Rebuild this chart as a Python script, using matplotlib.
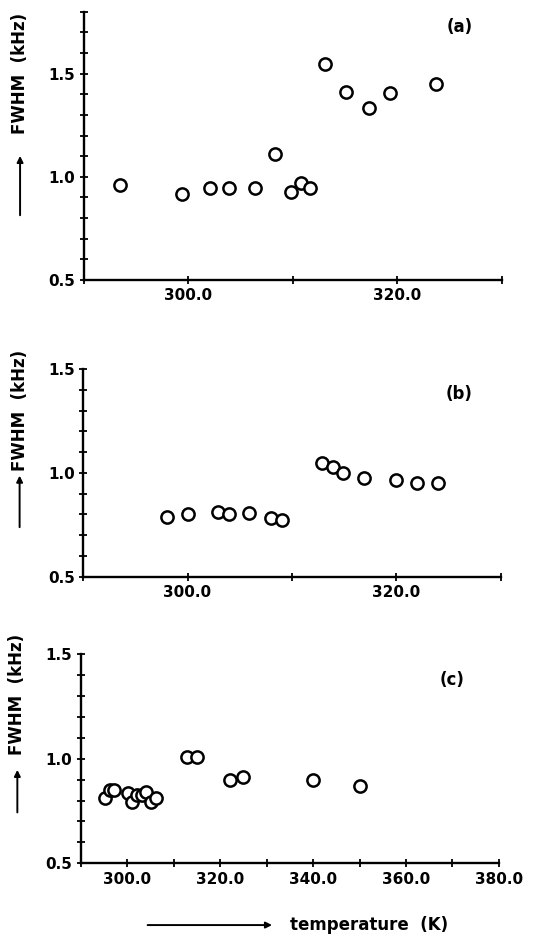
import matplotlib

matplotlib.use("Agg")
import matplotlib.pyplot as plt
from matplotlib.font_manager import FontProperties
from matplotlib.ticker import FormatStrFormatter, MultipleLocator

# panel (a)
temp_a = [293.5, 299.4, 302.1, 303.9, 306.4, 308.3, 309.8, 310.8, 311.6,
          313.1, 315.1, 317.3, 319.3, 323.7]
fwhm_a = [0.958, 0.915, 0.947, 0.947, 0.947, 1.112, 0.927, 0.968, 0.947,
          1.546, 1.413, 1.332, 1.405, 1.449]

# panel (b)
temp_b = [298.0, 300.0, 302.9, 304.0, 305.9, 308.0, 309.0,
          312.9, 313.9, 314.9, 316.9, 320.0, 322.0, 324.0]
fwhm_b = [0.787, 0.804, 0.813, 0.804, 0.807, 0.781, 0.771,
          1.047, 1.026, 1.000, 0.976, 0.966, 0.953, 0.953]

# panel (c)
temp_c = [295.1, 296.2, 297.2, 300.2, 301.1, 302.1, 303.2, 304.1, 305.2,
          306.2, 312.9, 315.0, 322.0, 325.0, 339.9, 350.0]
fwhm_c = [0.814, 0.852, 0.852, 0.838, 0.795, 0.825, 0.828, 0.839, 0.795,
          0.814, 1.010, 1.010, 0.900, 0.912, 0.900, 0.871]

panels = [
    ("(a)", temp_a, fwhm_a, (290, 330), (0.5, 1.8), 20),
    ("(b)", temp_b, fwhm_b, (290, 330), (0.5, 1.5), 20),
    ("(c)", temp_c, fwhm_c, (290, 380), (0.5, 1.5), 20),
]

# axes boxes in figure fractions: left, bottom, width, height
boxes = [
    (0.151, 0.7015, 0.755, 0.286),
    (0.150, 0.3852, 0.754, 0.2214),
    (0.146, 0.0796, 0.7545, 0.2231),
]
label_pos = [(0.90, 0.944), (0.90, 0.878), (0.887, 0.876)]
ylabel_y = [0.77, 0.80, 0.806]
arrow_span = [(0.231, 0.473), (0.225, 0.50), (0.23, 0.46)]

tick_font = FontProperties(family="DejaVu Sans", weight="bold", size=11)
text_font = {"family": "DejaVu Sans", "weight": "bold", "size": 12}
arrow_props = dict(arrowstyle="-|>", color="black", lw=1.4, mutation_scale=9)

fig = plt.figure(figsize=(5.54, 9.38), dpi=100)

for i, (tag, temps, widths, xlim, ylim, xmaj) in enumerate(panels):
    ax = fig.add_axes(boxes[i])
    ax.plot(temps, widths, linestyle="none", marker="o", markersize=8.8,
            markerfacecolor="white", markeredgecolor="black",
            markeredgewidth=1.8, clip_on=False)
    ax.set_xlim(*xlim)
    ax.set_ylim(*ylim)

    for side in ("top", "right"):
        ax.spines[side].set_visible(False)
    for side in ("left", "bottom"):
        ax.spines[side].set_linewidth(1.7)

    ax.xaxis.set_major_locator(MultipleLocator(xmaj))
    ax.xaxis.set_minor_locator(MultipleLocator(10))
    ax.yaxis.set_major_locator(MultipleLocator(0.5))
    ax.yaxis.set_minor_locator(MultipleLocator(0.1))
    ax.xaxis.set_major_formatter(FormatStrFormatter("%.1f"))
    ax.yaxis.set_major_formatter(FormatStrFormatter("%.1f"))
    if tag != "(c)":
        # only 300 and 320 carry labels on the narrow panels
        ax.set_xticks([300, 320])
    ax.tick_params(which="both", direction="inout", length=6, width=1.3,
                   pad=3)
    for lab in ax.get_xticklabels() + ax.get_yticklabels():
        lab.set_fontproperties(tick_font)

    ax.text(*label_pos[i], tag, transform=ax.transAxes, ha="center",
            va="center", fontdict=text_font)

    # y label with an upward arrow under it
    ax.text(-0.152, ylabel_y[i], "FWHM  (kHz)", transform=ax.transAxes,
            rotation=90, ha="center", va="center", fontdict=text_font)
    y0, y1 = arrow_span[i]
    ax.annotate("", xy=(-0.152, y1), xytext=(-0.152, y0),
                xycoords="axes fraction", textcoords="axes fraction",
                arrowprops=arrow_props, annotation_clip=False)

    if tag == "(c)":
        ax.annotate("", xy=(0.464, -0.295), xytext=(0.153, -0.295),
                    xycoords="axes fraction", textcoords="axes fraction",
                    arrowprops=arrow_props, annotation_clip=False)
        ax.text(0.50, -0.295, "temperature  (K)", transform=ax.transAxes,
                ha="left", va="center", fontdict=text_font)

fig.savefig("out.png", dpi=100)
